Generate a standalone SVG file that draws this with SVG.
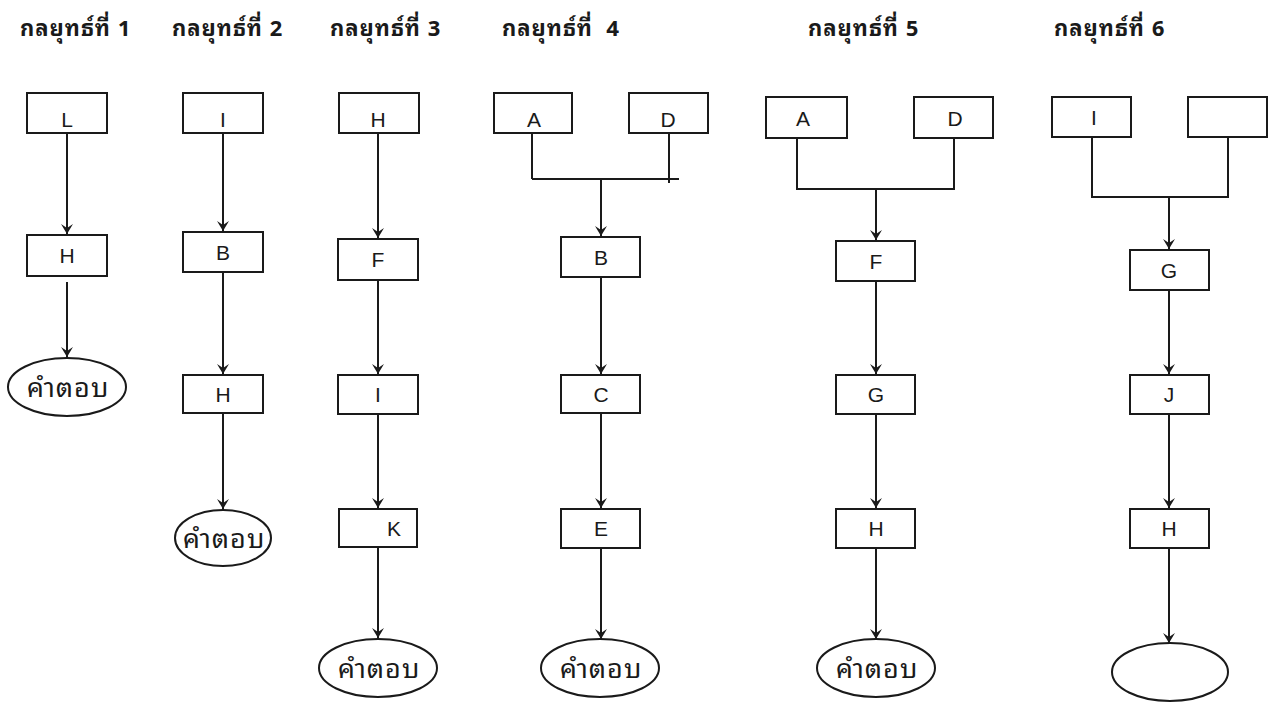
<svg xmlns="http://www.w3.org/2000/svg" width="1277" height="703" viewBox="0 0 1277 703">
<defs>
<style>
.box{fill:#fff;stroke:#1a1a1a;stroke-width:2}
.ell{fill:#fff;stroke:#1a1a1a;stroke-width:2}
.lbl{font-family:"Liberation Sans",Arial,sans-serif;font-size:21px;fill:#1a1a1a;text-anchor:middle}
.th{font-family:"Noto Sans Thai Looped","Noto Serif Thai","Noto Sans Thai","Noto Sans","DejaVu Sans",sans-serif;font-size:27px;letter-spacing:1px;fill:#1a1a1a;text-anchor:middle}
.ttl{font-family:"Noto Sans Thai Looped","Noto Sans Thai","Noto Sans","DejaVu Sans",sans-serif;font-size:22px;letter-spacing:1px;font-weight:bold;fill:#1a1a1a}
.ln{fill:none;stroke:#1a1a1a;stroke-width:2}
.ar{fill:none;stroke:#1a1a1a;stroke-width:2;marker-end:url(#arr)}
</style>
<marker id="arr" viewBox="-11 -7 12 14" refX="0" refY="0" markerWidth="12" markerHeight="14" markerUnits="userSpaceOnUse" orient="auto">
<path d="M0,0 L-10,-6 L-6,0 L-10,6 Z" fill="#1a1a1a"/>
</marker>
</defs>

<g id="titles">
<text class="ttl" x="20" y="36">กลยุทธ์ที่ 1</text>
<text class="ttl" x="172" y="36">กลยุทธ์ที่ 2</text>
<text class="ttl" x="330" y="36">กลยุทธ์ที่ 3</text>
<text class="ttl" x="502" y="36" xml:space="preserve">กลยุทธ์ที่  4</text>
<text class="ttl" x="808" y="36">กลยุทธ์ที่ 5</text>
<text class="ttl" x="1054" y="36">กลยุทธ์ที่ 6</text>
</g>

<g id="connectors">
<!-- column 1 -->
<line class="ar" x1="67" y1="133" x2="67" y2="234"/>
<line class="ar" x1="67" y1="282" x2="67" y2="357"/>
<!-- column 2 -->
<line class="ar" x1="223" y1="133" x2="223" y2="231"/>
<line class="ar" x1="223" y1="272" x2="223" y2="374"/>
<line class="ar" x1="223" y1="413" x2="223" y2="509"/>
<!-- column 3 -->
<line class="ar" x1="378" y1="133" x2="378" y2="238"/>
<line class="ar" x1="378" y1="280" x2="378" y2="374"/>
<line class="ar" x1="378" y1="414" x2="378" y2="508"/>
<line class="ar" x1="378" y1="547" x2="378" y2="638"/>
<!-- column 4 -->
<path class="ln" d="M532,133 V179 M669,133 V183 M532,179 H679"/>
<line class="ar" x1="601" y1="179" x2="601" y2="236"/>
<line class="ar" x1="601" y1="277" x2="601" y2="374"/>
<line class="ar" x1="601" y1="413" x2="601" y2="508"/>
<line class="ar" x1="601" y1="548" x2="601" y2="639"/>
<!-- column 5 -->
<path class="ln" d="M797,138 V189 H954 V138"/>
<line class="ar" x1="876" y1="189" x2="876" y2="240"/>
<line class="ar" x1="876" y1="281" x2="876" y2="374"/>
<line class="ar" x1="876" y1="414" x2="876" y2="508"/>
<line class="ar" x1="876" y1="548" x2="876" y2="639"/>
<!-- column 6 -->
<path class="ln" d="M1092,137 V197 H1228 V137"/>
<line class="ar" x1="1169" y1="197" x2="1169" y2="249"/>
<line class="ar" x1="1169" y1="290" x2="1169" y2="374"/>
<line class="ar" x1="1169" y1="414" x2="1169" y2="508"/>
<line class="ar" x1="1169" y1="548" x2="1169" y2="643"/>
</g>

<!-- column 1 -->
<g id="c1-L"><rect class="box" x="27" y="93" width="80" height="40"/><text class="lbl" x="67" y="127">L</text></g>
<g id="c1-H"><rect class="box" x="27" y="235" width="80" height="41"/><text class="lbl" x="67" y="263">H</text></g>
<g id="c1-ans"><ellipse class="ell" cx="67" cy="387" rx="59" ry="29"/><text class="th" x="68" y="397">คำตอบ</text></g>

<!-- column 2 -->
<g id="c2-I"><rect class="box" x="183" y="93" width="80" height="40"/><text class="lbl" x="223" y="127">I</text></g>
<g id="c2-B"><rect class="box" x="183" y="232" width="80" height="40"/><text class="lbl" x="223" y="260">B</text></g>
<g id="c2-H"><rect class="box" x="183" y="375" width="80" height="38"/><text class="lbl" x="223" y="402">H</text></g>
<g id="c2-ans"><ellipse class="ell" cx="223" cy="538" rx="48" ry="28"/><text class="th" x="224" y="548">คำตอบ</text></g>

<!-- column 3 -->
<g id="c3-H"><rect class="box" x="339" y="93" width="80" height="40"/><text class="lbl" x="378" y="127">H</text></g>
<g id="c3-F"><rect class="box" x="338" y="239" width="80" height="41"/><text class="lbl" x="378" y="267">F</text></g>
<g id="c3-I"><rect class="box" x="338" y="375" width="80" height="39"/><text class="lbl" x="378" y="402">I</text></g>
<g id="c3-K"><rect class="box" x="339" y="509" width="78" height="38"/><text class="lbl" x="394" y="536">K</text></g>
<g id="c3-ans"><ellipse class="ell" cx="378" cy="668" rx="59" ry="29"/><text class="th" x="379" y="678">คำตอบ</text></g>

<!-- column 4 -->
<g id="c4-A"><rect class="box" x="494" y="93" width="78" height="40"/><text class="lbl" x="534" y="127">A</text></g>
<g id="c4-D"><rect class="box" x="629" y="93" width="79" height="40"/><text class="lbl" x="668" y="127">D</text></g>
<g id="c4-B"><rect class="box" x="561" y="237" width="79" height="40"/><text class="lbl" x="601" y="265">B</text></g>
<g id="c4-C"><rect class="box" x="561" y="375" width="79" height="38"/><text class="lbl" x="601" y="402">C</text></g>
<g id="c4-E"><rect class="box" x="561" y="509" width="79" height="39"/><text class="lbl" x="601" y="536">E</text></g>
<g id="c4-ans"><ellipse class="ell" cx="600" cy="668" rx="59" ry="29"/><text class="th" x="601" y="678">คำตอบ</text></g>

<!-- column 5 -->
<g id="c5-A"><rect class="box" x="766" y="97" width="81" height="41"/><text class="lbl" x="803" y="126">A</text></g>
<g id="c5-D"><rect class="box" x="914" y="97" width="79" height="41"/><text class="lbl" x="955" y="126">D</text></g>
<g id="c5-F"><rect class="box" x="836" y="241" width="79" height="40"/><text class="lbl" x="876" y="269">F</text></g>
<g id="c5-G"><rect class="box" x="836" y="375" width="79" height="39"/><text class="lbl" x="876" y="402">G</text></g>
<g id="c5-H"><rect class="box" x="836" y="509" width="79" height="39"/><text class="lbl" x="876" y="536">H</text></g>
<g id="c5-ans"><ellipse class="ell" cx="876" cy="668" rx="59" ry="29"/><text class="th" x="877" y="678">คำตอบ</text></g>

<!-- column 6 -->
<g id="c6-I"><rect class="box" x="1052" y="97" width="79" height="40"/><text class="lbl" x="1094" y="125">I</text></g>
<g id="c6-blank"><rect class="box" x="1188" y="97" width="79" height="40"/></g>
<g id="c6-G"><rect class="box" x="1130" y="250" width="79" height="40"/><text class="lbl" x="1169" y="278">G</text></g>
<g id="c6-J"><rect class="box" x="1130" y="375" width="79" height="39"/><text class="lbl" x="1169" y="402">J</text></g>
<g id="c6-H"><rect class="box" x="1130" y="509" width="79" height="39"/><text class="lbl" x="1169" y="536">H</text></g>
<g id="c6-ans"><ellipse class="ell" cx="1170" cy="672" rx="58" ry="29"/></g>
</svg>
